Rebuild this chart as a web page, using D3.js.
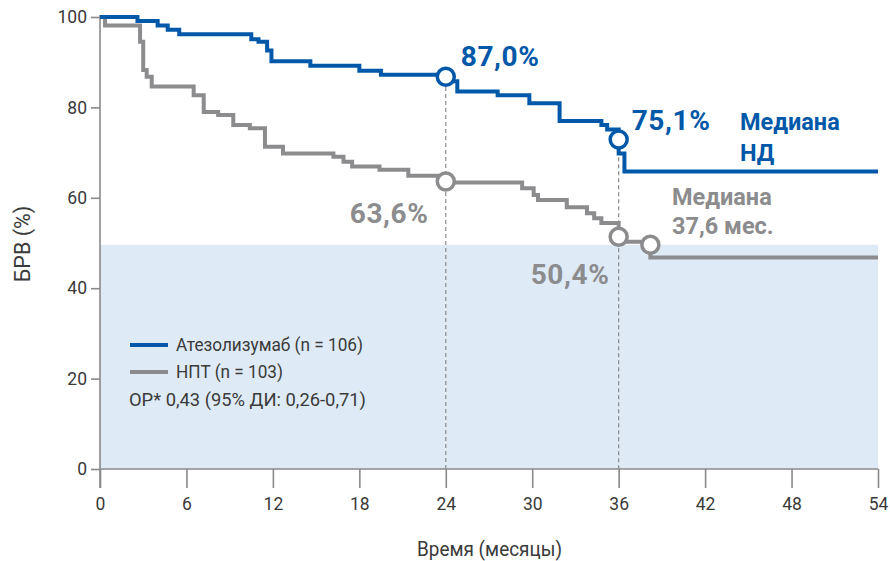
<!DOCTYPE html>
<html>
<head>
<meta charset="utf-8">
<script src="https://cdn.jsdelivr.net/npm/d3@7"></script>
<style>
  html, body { margin: 0; padding: 0; background: #fff; }
  svg { display: block; }
  .cond { font-family: "Roboto", "Liberation Sans", sans-serif; }
  .bold { font-family: "Roboto", "Liberation Sans", sans-serif; font-weight: 700; }
</style>
</head>
<body>
<svg id="chart" width="890" height="561"></svg>
<script>
// ---------- data ----------
const xTicks = [0, 6, 12, 18, 24, 30, 36, 42, 48, 54];
const yTicks = [0, 20, 40, 60, 80, 100];

// Atezolizumab KM steps (time in months, survival %)
const blueTimes = [0, 2.6, 4.0, 4.7, 5.5, 10.5, 11.0, 11.6, 11.9, 14.6, 18.0, 19.5, 24.0, 24.8, 27.6, 29.8, 31.9, 34.8, 35.2, 36.0, 36.4];
const blueSurv  = [100, 99.1, 98.1, 97.2, 96.2, 95.1, 94.5, 92.6, 90.2, 89.2, 88.1, 87.2, 85.8, 83.5, 82.7, 80.9, 77.0, 76.1, 75.1, 69.8, 65.8];

// НПТ KM steps
const greyTimes = [0, 0.35, 2.78, 3.0, 3.24, 3.59, 6.5, 7.2, 8.2, 9.25, 10.4, 11.45, 12.7, 16.2, 16.9, 17.5, 19.4, 21.4, 24.0, 29.3, 30.1, 30.4, 32.4, 33.8, 34.3, 34.8, 36.0, 38.2];
const greySurv  = [100, 98.1, 94.5, 88.3, 86.8, 84.6, 82.7, 79.0, 78.3, 76.1, 75.4, 71.3, 69.8, 69.1, 68.0, 66.9, 66.2, 64.9, 63.4, 62.1, 60.6, 59.5, 57.9, 56.6, 55.5, 54.4, 50.3, 46.8];

const xMax = 54;
const shadeLevel = 49.6;

// markers and labels
const blueMarkT = [24, 36];
const blueMarkV = [86.8, 72.9];
const blueMarkLabels = ["87,0%", "75,1%"];
const greyMarkT = [24, 36, 38.2];
const greyMarkV = [63.6, 51.4, 49.6];
const greyMarkLabels = ["63,6%", "50,4%"];
const dashT = [24, 36];
const dashTopV = [84.5, 70.5];

const legendLabels = ["Атезолизумаб (n = 106)", "НПТ (n = 103)"];
const hrText = "ОР* 0,43 (95% ДИ: 0,26-0,71)";
const xTitle = "Время (месяцы)";
const yTitle = "БРВ (%)";
const blueMedian = ["Медиана", "НД"];
const greyMedian = ["Медиана", "37,6 мес."];

// ---------- colours ----------
const BLUE = "#0058a9";
const GREY = "#8c8c8e";
const AXIS = "#8a8a8a";
const SHADE = "#deebf6";
const TXT = "#3a3a3a";

// ---------- scales ----------
const svg = d3.select("#chart");
const x = d3.scaleLinear().domain([0, 54]).range([100, 878]);
const y = d3.scaleLinear().domain([0, 100]).range([469, 17]);

// shaded region
svg.append("rect")
  .attr("x", x(0)).attr("y", y(shadeLevel))
  .attr("width", x(54) - x(0)).attr("height", y(0) - y(shadeLevel))
  .attr("fill", SHADE);

// axes
const xAxis = svg.append("g").attr("transform", `translate(0,${y(0)})`)
  .call(d3.axisBottom(x).tickValues(xTicks).tickSize(19).tickPadding(10).tickFormat(d3.format("d")));
const yAxis = svg.append("g").attr("transform", `translate(${x(0)},0)`)
  .call(d3.axisLeft(y).tickValues(yTicks).tickSize(9).tickPadding(4).tickFormat(d3.format("d")));
[xAxis, yAxis].forEach(g => {
  g.select(".domain").attr("stroke", AXIS).attr("stroke-width", 1.6);
  g.selectAll(".tick line").attr("stroke", AXIS).attr("stroke-width", 1.6);
  g.selectAll(".tick text").attr("class", "cond").attr("fill", TXT).attr("font-size", 17.5);
});
xAxis.select(".domain").attr("d", `M${x(0)},0H${x(54)}`);
yAxis.select(".domain").attr("d", `M0,${y(100)-2}V${y(0)+19}`);

// axis titles
svg.append("text").attr("class", "cond").attr("x", 417).attr("y", 556)
  .attr("font-size", 21).attr("fill", TXT)
  .attr("textLength", 145).attr("lengthAdjust", "spacingAndGlyphs").text(xTitle);
svg.append("text").attr("class", "cond")
  .attr("transform", `translate(30,${y(50) + 1}) rotate(-90)`)
  .attr("text-anchor", "middle").attr("font-size", 21.5).attr("fill", TXT).text(yTitle);

// dashed reference lines
dashT.forEach((t, i) => {
  svg.append("line")
    .attr("x1", x(t)).attr("x2", x(t))
    .attr("y1", y(dashTopV[i])).attr("y2", y(0))
    .attr("stroke", "#8a8a8a").attr("stroke-width", 1.2).attr("stroke-dasharray", "4,3");
});

// KM curves
function stepData(ts, vs) {
  const pts = ts.map((t, i) => [t, vs[i]]);
  pts.push([xMax, vs[vs.length - 1]]);
  return pts;
}
const line = d3.line().x(d => x(d[0])).y(d => y(d[1])).curve(d3.curveStepAfter);
svg.append("path").datum(stepData(greyTimes, greySurv))
  .attr("d", line).attr("fill", "none").attr("stroke", GREY).attr("stroke-width", 4);
svg.append("path").datum(stepData(blueTimes, blueSurv))
  .attr("d", line).attr("fill", "none").attr("stroke", BLUE).attr("stroke-width", 4);

// markers
function marks(ts, vs, col) {
  ts.forEach((t, i) => {
    svg.append("circle").attr("cx", x(t)).attr("cy", y(vs[i])).attr("r", 8.5)
      .attr("fill", "#fff").attr("stroke", col).attr("stroke-width", 3.5);
  });
}
marks(greyMarkT, greyMarkV, GREY);
marks(blueMarkT, blueMarkV, BLUE);

// percentage labels
const pct = (txt, px, py, col) => svg.append("text").attr("class", "bold")
  .attr("x", px).attr("y", py).attr("font-size", 28).attr("letter-spacing", 0.6)
  .attr("fill", col).text(txt);
pct(blueMarkLabels[0], x(blueMarkT[0]) + 15, y(blueMarkV[0]) - 11, BLUE);
pct(blueMarkLabels[1], x(blueMarkT[1]) + 13, y(blueMarkV[1]) - 9, BLUE);
pct(greyMarkLabels[0], x(greyMarkT[0]) - 96, y(greyMarkV[0]) + 41, GREY);
pct(greyMarkLabels[1], x(greyMarkT[1]) - 88, y(greyMarkV[1]) + 47, GREY);

// median labels
const med = (lines, px, py, col, gap) => lines.forEach((s, i) => svg.append("text").attr("class", "bold")
  .attr("x", px).attr("y", py + i * gap).attr("font-size", 23.5).attr("fill", col).text(s));
med(blueMedian, 740, 130, BLUE, 31);
med(greyMedian, 672, 205, GREY, 29);

// legend
const lg = svg.append("g");
const legendWidths = [187, 107];
[BLUE, GREY].forEach((c, i) => {
  lg.append("line").attr("x1", 130).attr("x2", 168)
    .attr("y1", 345 + i * 27).attr("y2", 345 + i * 27)
    .attr("stroke", c).attr("stroke-width", 4);
  lg.append("text").attr("class", "cond").attr("x", 176).attr("y", 351 + i * 27)
    .attr("font-size", 19).attr("fill", TXT)
    .attr("textLength", legendWidths[i]).attr("lengthAdjust", "spacingAndGlyphs")
    .text(legendLabels[i]);
});
lg.append("text").attr("class", "cond").attr("x", 129).attr("y", 406)
  .attr("font-size", 19).attr("fill", TXT)
  .attr("textLength", 237).attr("lengthAdjust", "spacingAndGlyphs").text(hrText);
</script>
</body>
</html>
